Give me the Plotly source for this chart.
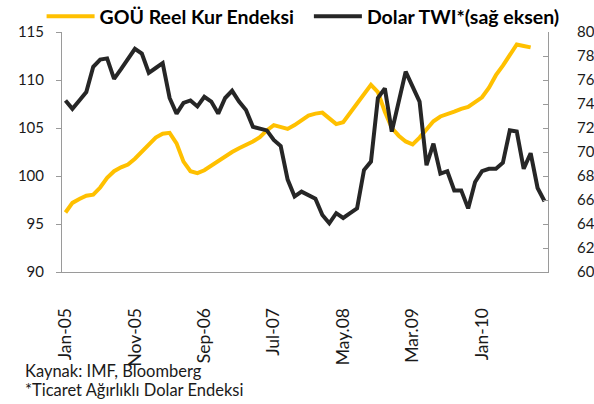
import plotly.graph_objects as go
import pandas as pd

# Monthly categories Jan-2005 .. Oct-2010
months = pd.date_range("2005-01-01", periods=70, freq="MS").strftime("%Y-%m").tolist()

# GOÜ Reel Kur Endeksi (left axis), Jan-05 .. Aug-10
gou_reel_kur = [
    96.2, 97.2, 97.6, 97.95, 98.05, 98.8, 99.8, 100.5, 100.9, 101.2,
    101.8, 102.5, 103.3, 104.0, 104.4, 104.5, 103.4, 101.5, 100.5, 100.3,
    100.6, 101.1, 101.6, 102.0, 102.5, 102.9, 103.2, 103.6, 104.05, 104.75,
    105.3, 105.1, 104.9, 105.3, 105.8, 106.3, 106.5, 106.6, 106.0, 105.4,
    105.6, 106.6, 107.6, 108.6, 109.5, 108.75, 106.7, 105.0, 104.2, 103.6,
    103.3, 104.0, 104.9, 105.7, 106.2, 106.4, 106.7, 107.0, 107.2, 107.7,
    108.2, 109.2, 110.5, 111.5, 112.7, 113.7, 113.55, 113.4,
]

# Dolar TWI (right axis), Jan-05 .. Oct-10
dolar_twi = [
    74.3, 73.6, 74.3, 75.0, 77.1, 77.7, 77.8, 76.1, 76.9, 77.8,
    78.6, 78.2, 76.6, 77.0, 77.4, 74.5, 73.2, 74.1, 74.3, 73.8,
    74.6, 74.2, 73.2, 74.5, 75.1, 74.2, 73.5, 72.1, 71.95, 71.8,
    71.0, 70.5, 67.7, 66.3, 66.7, 66.4, 66.1, 64.75, 64.06, 64.9,
    64.5, 64.9, 65.3, 68.5, 69.2, 74.5, 75.3, 71.7, 74.2, 76.7,
    75.45, 74.2, 68.9, 70.7, 68.2, 68.4, 66.8, 66.8, 65.3, 67.5,
    68.4, 68.6, 68.6, 69.1, 71.8, 71.7, 68.6, 69.9, 67.0, 65.9,
]

tick_positions = [0, 10, 20, 30, 40, 50, 60]
tick_labels = ["Jan-05", "Nov-05", "Sep-06", "Jul-07", "May.08", "Mar.09", "Jan-10"]

FONT = "Lato, 'Liberation Sans', Arial, sans-serif"
AXIS_GRAY = "#9a9a9a"
TXT = "#1a1a1a"

fig = go.Figure()
fig.add_trace(go.Scatter(
    x=months[:len(gou_reel_kur)], y=gou_reel_kur, name="GOÜ Reel Kur Endeksi",
    mode="lines", line=dict(color="#FFC000", width=4), yaxis="y", legend="legend",
))
fig.add_trace(go.Scatter(
    x=months, y=dolar_twi, name="Dolar TWI*(sağ eksen)",
    mode="lines", line=dict(color="#262626", width=4), yaxis="y2", legend="legend2",
))

legend_common = dict(
    orientation="h", xref="paper", yref="paper",
    y=1.0646, xanchor="left", yanchor="middle",
    font=dict(family=FONT, size=19.5, color="#000000", weight="bold"),
    itemwidth=48, bgcolor="rgba(0,0,0,0)",
)

fig.update_layout(
    width=594, height=404,
    margin=dict(l=62, r=46, t=32, b=132, autoexpand=False),
    paper_bgcolor="white", plot_bgcolor="white",
    font=dict(family=FONT, color=TXT, size=15),
    showlegend=True,
    legend=dict(x=-0.042, **legend_common),
    legend2=dict(x=0.508, **legend_common),
    xaxis=dict(
        type="category", categoryorder="array", categoryarray=months,
        range=[-0.5, len(months) - 0.5], automargin=False,
        tickmode="array", tickvals=[months[i] for i in tick_positions], ticktext=tick_labels,
        tickangle=-90, ticks="", showline=True, linecolor=AXIS_GRAY, linewidth=1,
        showgrid=False, zeroline=False, tickfont=dict(size=17.5, color=TXT),
        ticklabelstandoff=28,
    ),
    yaxis=dict(
        range=[90, 115], dtick=5, tick0=90, ticks="outside", ticklen=5, tickcolor=AXIS_GRAY,
        showline=True, linecolor=AXIS_GRAY, linewidth=1, showgrid=False, zeroline=False,
        automargin=False, tickfont=dict(size=15, color=TXT), ticklabelstandoff=9,
    ),
    yaxis2=dict(
        range=[60, 80], dtick=2, tick0=60, overlaying="y", side="right",
        ticks="inside", ticklen=5, tickcolor=AXIS_GRAY,
        showline=True, linecolor=AXIS_GRAY, linewidth=1, showgrid=False, zeroline=False,
        automargin=False, tickfont=dict(size=15, color=TXT), ticklabelstandoff=25,
    ),
    annotations=[
        dict(text="Kaynak: IMF, Bloomberg", xref="paper", yref="paper",
             x=(23 - 62) / 486, y=(272 - 370.5) / 240, xanchor="left", yanchor="middle",
             showarrow=False, font=dict(family=FONT, size=16.5, color=TXT)),
        dict(text="*Ticaret Ağırlıklı Dolar Endeksi", xref="paper", yref="paper",
             x=(23 - 62) / 486, y=(272 - 389.5) / 240, xanchor="left", yanchor="middle",
             showarrow=False, font=dict(family=FONT, size=16.5, color=TXT)),
    ],
)

fig.write_html(
    "out.html",
    config={"displayModeBar": False},
    post_script="document.body.style.margin='0';document.body.style.overflow='hidden';",
)
